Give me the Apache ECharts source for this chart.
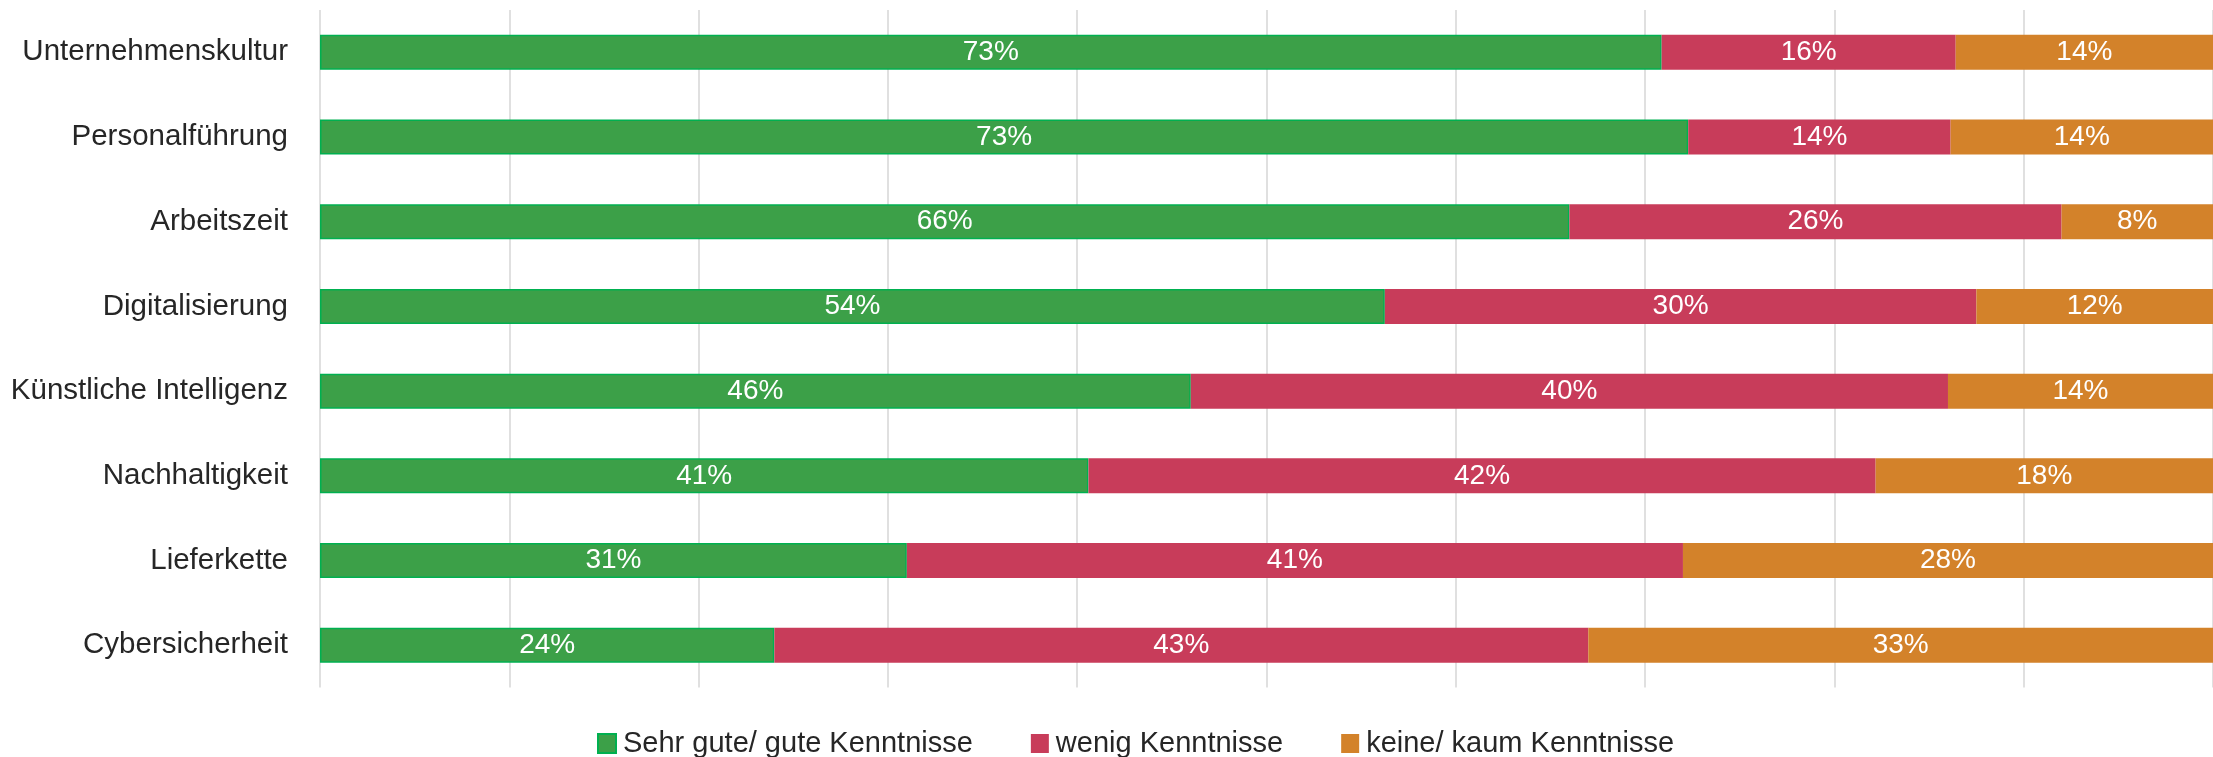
<!DOCTYPE html>
<html>
<head>
<meta charset="utf-8">
<script src="https://cdn.jsdelivr.net/npm/echarts@6/dist/echarts.min.js"></script>
<style>
  html, body { margin: 0; padding: 0; background: #fff; }
  #chart { width: 2213px; height: 757px; }
</style>
</head>
<body>
<div id="chart"></div>
<script>
const categories = [
  "Unternehmenskultur",
  "Personalführung",
  "Arbeitszeit",
  "Digitalisierung",
  "Künstliche Intelligenz",
  "Nachhaltigkeit",
  "Lieferkette",
  "Cybersicherheit",
];
const seriesNames = ["Sehr gute/ gute Kenntnisse", "wenig Kenntnisse", "keine/ kaum Kenntnisse"];
const goodValues = [73, 73, 66, 54, 46, 41, 31, 24];
const fewValues = [16, 14, 26, 30, 40, 42, 41, 43];
const noneValues = [14, 14, 8, 12, 14, 18, 28, 33];

const FONT = "Liberation Sans";
const allSeries = [goodValues, fewValues, noneValues];
// 100% stacked: every row is scaled to its own total
const rowTotals = categories.map((_, i) => allSeries.reduce((s, arr) => s + arr[i], 0));

const colors = ["#3ca048", "#c83c5a", "#d3822a"];
const borders = ["#00b050", "#c83c5a", "#d3822a"];

const chart = echarts.init(document.getElementById("chart"), null, { renderer: "canvas" });

const option = {
  animation: false,
  grid: { left: 320, top: 10, width: 1910, height: 677.6 },
  legend: {
    data: seriesNames,
    left: 592,
    top: 724,
    icon: "rect",
    itemWidth: 18,
    itemHeight: 19,
    itemGap: 58,
    textStyle: { fontFamily: FONT, fontSize: 29, color: "#262626", padding: [0, 0, 0, 2] },
  },
  xAxis: {
    type: "value",
    min: 0,
    max: 100,
    interval: 10,
    axisLabel: { show: false },
    axisLine: { show: false },
    axisTick: { show: false },
    splitLine: { show: true, lineStyle: { color: "#d9d9d9", width: 1.6 } },
  },
  yAxis: {
    type: "category",
    inverse: true,
    data: categories,
    axisLine: { show: false },
    axisTick: { show: false },
    axisLabel: { fontFamily: FONT, fontSize: 29.5, color: "#262626", margin: 32 },
  },
  series: allSeries.map((arr, k) => ({
    name: seriesNames[k],
    type: "bar",
    stack: "total",
    barWidth: 35,
    itemStyle: { color: colors[k], borderColor: borders[k], borderWidth: k === 0 ? 1.5 : 0 },
    label: {
      show: true,
      position: "inside",
      color: "#fff",
      fontFamily: FONT,
      fontSize: 28,
      formatter: (p) => arr[p.dataIndex] + "%",
    },
    data: arr.map((v, i) => (v / rowTotals[i]) * 100),
  })),
};

chart.setOption(option);
</script>
</body>
</html>
